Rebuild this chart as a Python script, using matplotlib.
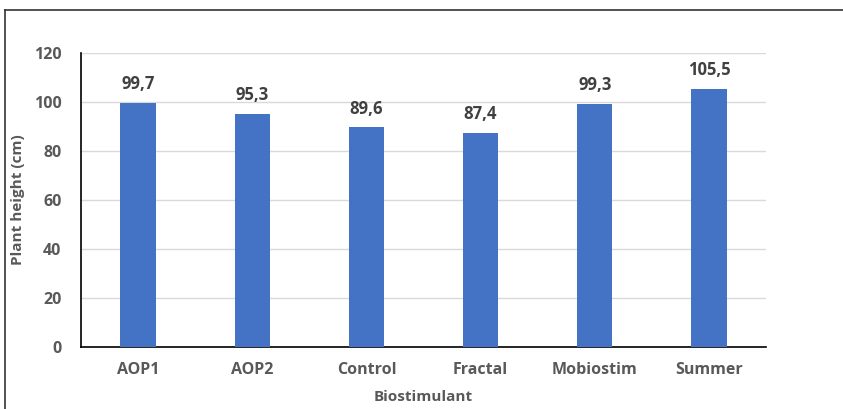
import matplotlib.pyplot as plt
from matplotlib.lines import Line2D

categories = ['AOP1', 'AOP2', 'Control', 'Fractal', 'Mobiostim', 'Summer']
heights = [99.7, 95.3, 89.6, 87.4, 99.3, 105.5]
yticks = [0, 20, 40, 60, 80, 100, 120]

plt.rcParams['font.family'] = ['Open Sans', 'DejaVu Sans']

W, H = 843, 409
fig = plt.figure(figsize=(W / 100, H / 100), dpi=100)
ax = fig.add_axes([81 / W, 1 - 347 / H, (766 - 81) / W, (347 - 53) / H])

x = range(len(categories))
ax.bar(x, heights, width=0.31, color='#4472C4', zorder=3)
for xi, h in zip(x, heights):
    ax.text(xi, h + 4, f'{h:.1f}'.replace('.', ','), ha='center', va='bottom',
            fontsize=12, fontweight='bold', color='#404040')

ax.set_xlim(-0.5, len(categories) - 0.5)
ax.set_ylim(0, 120)
ax.set_yticks(yticks)
ax.set_xticks(list(x))
ax.set_xticklabels(categories)
ax.yaxis.grid(True, color='#D9D9D9', linewidth=1, zorder=0)
ax.tick_params(length=0, labelsize=11.5, labelcolor='#595959')
ax.tick_params(axis='y', pad=14)
ax.tick_params(axis='x', pad=11)
for lab in ax.get_xticklabels() + ax.get_yticklabels():
    lab.set_fontweight('bold')

for s in ['top', 'right']:
    ax.spines[s].set_visible(False)
ax.spines['left'].set_color('black')
ax.spines['bottom'].set_color('black')
ax.spines['left'].set_linewidth(1.2)
ax.spines['bottom'].set_linewidth(1.2)

ax.set_ylabel('Plant height (cm)', fontsize=11, fontweight='bold', color='#595959')
ax.set_xlabel('Biostimulant', fontsize=11, fontweight='bold', color='#595959')
ax.yaxis.set_label_coords(-(81 - 25) / (766 - 81), 0.5)
ax.xaxis.set_label_coords(0.5, -(390 - 347) / (347 - 53))
ax.xaxis.label.set_va('top')

# outer frame (top and left edges)
fig.add_artist(Line2D([5 / W, 1], [1 - 10 / H, 1 - 10 / H], color='#333333', linewidth=1.2))
fig.add_artist(Line2D([5 / W, 5 / W], [0, 1 - 10 / H], color='#333333', linewidth=1.2))

fig.savefig('out.png', dpi=100)
